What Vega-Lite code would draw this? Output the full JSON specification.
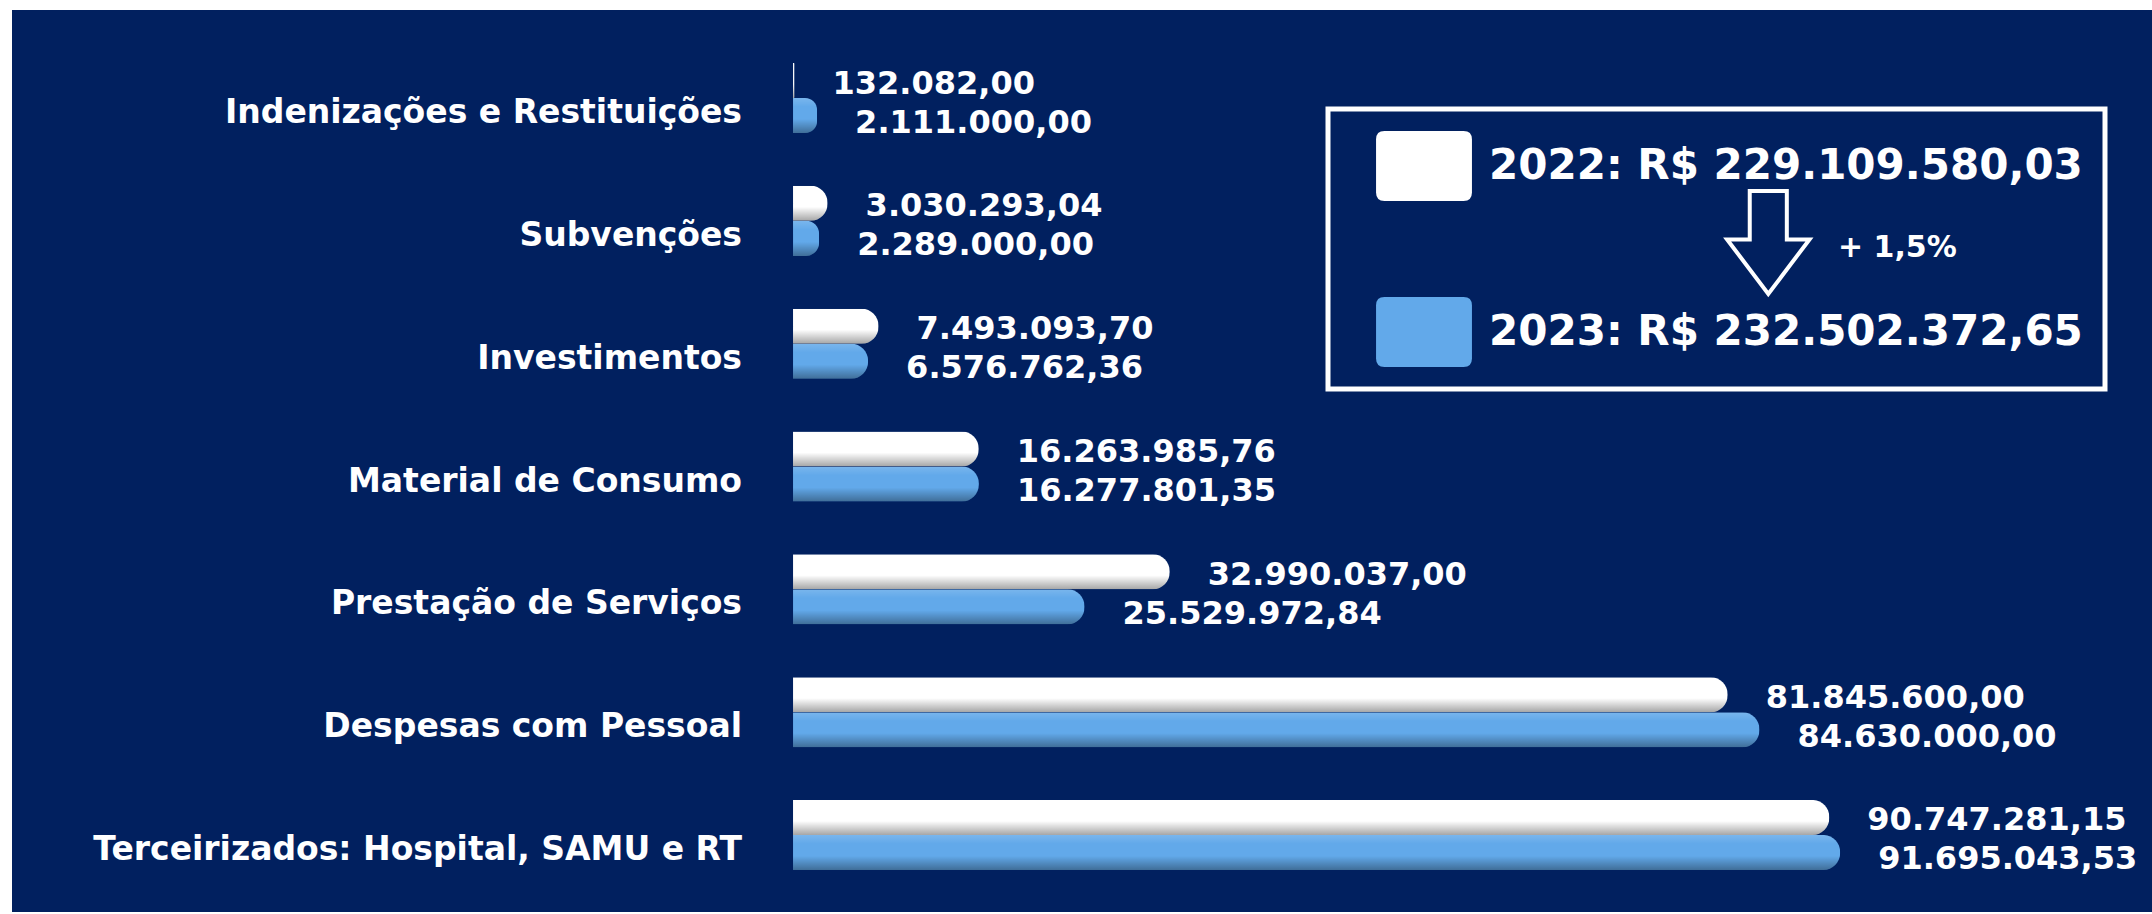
{
  "$schema": "https://vega.github.io/schema/vega-lite/v6.json",
  "width": 2152,
  "height": 914,
  "autosize": {"type": "fit", "contains": "padding"},
  "padding": {"left": 12, "top": 10, "right": 0, "bottom": 2},
  "background": "#ffffff",
  "config": {
    "view": {"fill": "#01205f", "stroke": null},
    "locale": {"number": {"decimal": ",", "thousands": ".", "grouping": [3], "currency": ["R$ ", ""]}},
    "font": "DejaVu Sans"
  },
  "data": {
    "values": [
      {"cat": "Indenizações e Restituições", "ano": "2022", "valor": 132082.00},
      {"cat": "Indenizações e Restituições", "ano": "2023", "valor": 2111000.00},
      {"cat": "Subvenções", "ano": "2022", "valor": 3030293.04},
      {"cat": "Subvenções", "ano": "2023", "valor": 2289000.00},
      {"cat": "Investimentos", "ano": "2022", "valor": 7493093.70},
      {"cat": "Investimentos", "ano": "2023", "valor": 6576762.36},
      {"cat": "Material de Consumo", "ano": "2022", "valor": 16263985.76},
      {"cat": "Material de Consumo", "ano": "2023", "valor": 16277801.35},
      {"cat": "Prestação de Serviços", "ano": "2022", "valor": 32990037.00},
      {"cat": "Prestação de Serviços", "ano": "2023", "valor": 25529972.84},
      {"cat": "Despesas com Pessoal", "ano": "2022", "valor": 81845600.00},
      {"cat": "Despesas com Pessoal", "ano": "2023", "valor": 84630000.00},
      {"cat": "Terceirizados: Hospital, SAMU e RT", "ano": "2022", "valor": 90747281.15},
      {"cat": "Terceirizados: Hospital, SAMU e RT", "ano": "2023", "valor": 91695043.53}
    ]
  },
  "layer": [
    {
      "mark": {"type": "bar", "cornerRadiusEnd": 17},
      "encoding": {
        "x": {"field": "valor", "type": "quantitative", "axis": null, "scale": {"domain": [-68390000, 119000000], "nice": false}},
        "y": {"field": "cat", "type": "nominal", "axis": null, "scale": {"domain": ["Indenizações e Restituições", "Subvenções", "Investimentos", "Material de Consumo", "Prestação de Serviços", "Despesas com Pessoal", "Terceirizados: Hospital, SAMU e RT"], "paddingInner": 0.43, "paddingOuter": 0.387, "align": 0.558}},
        "yOffset": {"field": "ano", "type": "nominal", "scale": {"domain": ["2022", "2023"], "paddingInner": 0, "paddingOuter": 0}},
        "color": {
          "field": "ano", "type": "nominal",
          "scale": {"domain": ["2022", "2023"], "range": ["#ffffff", "#62a9ea"]},
          "legend": {
            "title": null, "orient": "none", "legendX": 1316, "legendY": 99, "direction": "vertical",
            "padding": 22, "strokeColor": "#ffffff",
            "symbolType": "M-1.13,-1 L1.13,-1 Q1.37,-1 1.37,-0.76 L1.37,0.76 Q1.37,1 1.13,1 L-1.13,1 Q-1.37,1 -1.37,0.76 L-1.37,-0.76 Q-1.37,-1 -1.13,-1 Z",
            "symbolSize": 4900, "symbolStrokeWidth": 0, "symbolOpacity": 1, "symbolOffset": 39,
            "labelOffset": 30, "labelFont": "DejaVu Sans", "labelFontWeight": "bold", "labelFontSize": 42,
            "labelColor": "#ffffff", "labelLimit": 0, "rowPadding": 96,
            "labelExpr": "datum.label == '2022' ? '2022: R$ 229.109.580,03' : '2023: R$ 232.502.372,65'",
            "encode": {"legend": {"update": {"strokeWidth": {"value": 5}}}}
          }
        }
      }
    },
    {
      "mark": {"type": "bar", "cornerRadiusEnd": 17, "color": {"gradient": "linear", "x1": 0, "y1": 0, "x2": 0, "y2": 1, "stops": [{"offset": 0, "color": "rgba(255,255,255,0.15)"}, {"offset": 0.25, "color": "rgba(255,255,255,0)"}, {"offset": 0.6, "color": "rgba(0,0,0,0)"}, {"offset": 1, "color": "rgba(0,0,0,0.35)"}]}},
      "encoding": {
        "x": {"field": "valor", "type": "quantitative"},
        "y": {"field": "cat", "type": "nominal"},
        "yOffset": {"field": "ano", "type": "nominal"}
      }
    },
    {
      "transform": [{"filter": "datum.ano === '2022'"}],
      "mark": {"type": "text", "align": "right", "baseline": "middle", "dx": -51, "dy": 15, "fontSize": 33, "fontWeight": "bold", "color": "#ffffff", "font": "DejaVu Sans"},
      "encoding": {
        "x": {"datum": 0, "type": "quantitative"},
        "y": {"field": "cat", "type": "nominal"},
        "text": {"field": "cat"}
      }
    },
    {
      "transform": [{"filter": "datum.ano === '2022'"}],
      "mark": {"type": "text", "align": "left", "baseline": "middle", "dx": 38, "dy": 3, "fontSize": 32, "fontWeight": "bold", "color": "#ffffff", "font": "DejaVu Sans"},
      "encoding": {
        "x": {"field": "valor", "type": "quantitative"},
        "y": {"field": "cat", "type": "nominal"},
        "yOffset": {"field": "ano", "type": "nominal"},
        "text": {"field": "valor", "type": "quantitative", "format": ",.2f"}
      }
    },
    {
      "transform": [{"filter": "datum.ano === '2023'"}],
      "mark": {"type": "text", "align": "left", "baseline": "middle", "dx": 38, "dy": 7, "fontSize": 32, "fontWeight": "bold", "color": "#ffffff", "font": "DejaVu Sans"},
      "encoding": {
        "x": {"field": "valor", "type": "quantitative"},
        "y": {"field": "cat", "type": "nominal"},
        "yOffset": {"field": "ano", "type": "nominal"},
        "text": {"field": "valor", "type": "quantitative", "format": ",.2f"}
      }
    },
    {
      "data": {"values": [{"nota": "+ 1,5%"}]},
      "mark": {"type": "point", "shape": "M-0.36,-0.92 L0.36,-0.92 L0.36,0.02 L0.8,0.02 L0,1.08 L-0.8,0.02 L-0.36,0.02 Z", "size": 10609, "filled": false, "stroke": "#ffffff", "strokeWidth": 4, "opacity": 1},
      "encoding": {
        "x": {"datum": 85400000, "type": "quantitative"},
        "y": {"datum": "Subvenções", "type": "nominal"},
        "yOffset": {"datum": "2023", "type": "nominal"}
      }
    },
    {
      "data": {"values": [{"nota": "+ 1,5%"}]},
      "mark": {"type": "text", "align": "left", "baseline": "middle", "dy": 10, "fontSize": 30, "fontWeight": "bold", "color": "#ffffff", "font": "DejaVu Sans"},
      "encoding": {
        "x": {"datum": 91500000, "type": "quantitative"},
        "y": {"datum": "Subvenções", "type": "nominal"},
        "yOffset": {"datum": "2023", "type": "nominal"},
        "text": {"field": "nota"}
      }
    }
  ]
}
